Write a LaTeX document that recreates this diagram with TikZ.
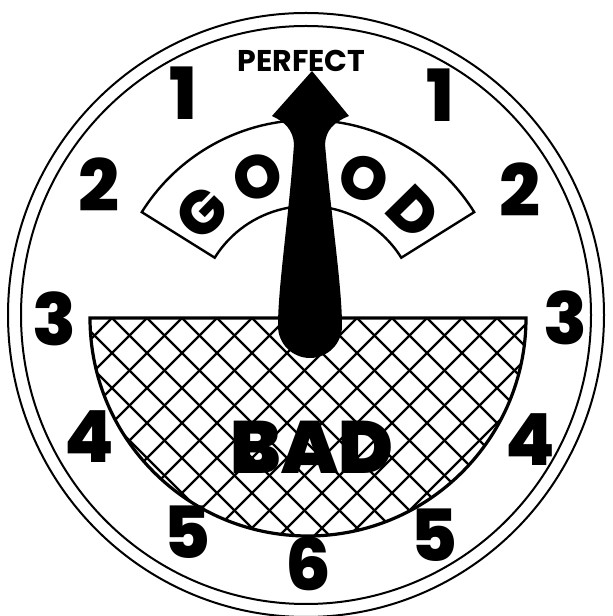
\documentclass[tikz,border=0pt]{standalone}
\usepackage{fontspec}
\setmainfont{Poppins}
\newfontfamily\heavyfont{Poppins Black}
\newfontfamily\dialfont{Poppins ExtraBold}
\usetikzlibrary{calc}

\begin{document}
\begin{tikzpicture}[x=1pt, y=1pt,
  rim/.style={line width=2pt},
  numeral/.style={inner sep=0pt, font=\dialfont\fontsize{72}{72}\selectfont},
  goodletter/.style={inner sep=0pt, font=\dialfont\fontsize{61}{61}\selectfont},
  hatch/.style={line width=2.2pt}]
  \useasboundingbox (0,0) rectangle (613,616);

  % dial face, double rim
  \coordinate (face) at (306,301);
  \draw[rim] (face) ellipse (298 and 302);
  \draw[rim] (face) ellipse (285 and 289);

  % GOOD banner round the pivot
  \coordinate (pivot) at (308,300);
  \draw[line width=2.4pt, fill=white] ($(pivot)+(32:110)$) -- ($(pivot)+(32:196)$)
    arc (32:148:196) -- ($(pivot)+(148:110)$) arc (148:32:110) -- cycle;
  \foreach \ang/\ch/\nm in {136/G/g, 110/O/o, 68/O/oo, 44.5/D/d}
    \node[goodletter, rotate=\ang-90] (\nm) at ($(pivot)+(\ang:148)$) {\ch};

  % BAD half disc, cross hatched
  \coordinate (bowl) at (308,298);
  \begin{scope}
    \clip (bowl) ++(-218,0) arc (180:360:218) -- cycle;
    \foreach \k in {-14,...,13} {
      \pgfmathsetmacro\xo{357+35*\k}
      \draw[hatch] (\xo-260,38) -- ++(520,520);
      \draw[hatch] (\xo-260,558) -- ++(520,-520);
    }
  \end{scope}
  \draw[line width=3.2pt] (bowl) ++(-218,0) arc (180:360:218) -- cycle;

  % needle
  \fill (312,545) -- (349,500) .. controls (334,494) and (326,486) .. (325,472)
    .. controls (331,400) and (342,330) .. (342,290) arc (0:-180:32)
    .. controls (278,330) and (289,400) .. (294,472)
    .. controls (293,486) and (285,494) .. (272,500) -- cycle;

  % scale numbers
  \node[numeral] (oneL) at (183,523) {1};
  \node[numeral] (oneR) at (440,521) {1};
  \node[numeral] (twoL) at (99,431) {2};
  \node[numeral] (twoR) at (520,426) {2};
  \node[numeral] (threeL) at (54,297) {3};
  \node[numeral] (threeR) at (565,298) {3};
  \node[numeral] (fourL) at (89,179) {4};
  \node[numeral] (fourR) at (530,176) {4};
  \node[numeral] (fiveL) at (187,84) {5};
  \node[numeral] (fiveR) at (434,81) {5};
  \node[numeral] (six) at (308,52) {6};

  \node[inner sep=0pt, font=\bfseries\fontsize{30}{30}\selectfont] (perfect) at (301.5,555) {PERFECT};
  \node[inner sep=0pt, font=\heavyfont\fontsize{74}{74}\selectfont] (bad) at (312,169) {BAD};
\end{tikzpicture}
\end{document}
